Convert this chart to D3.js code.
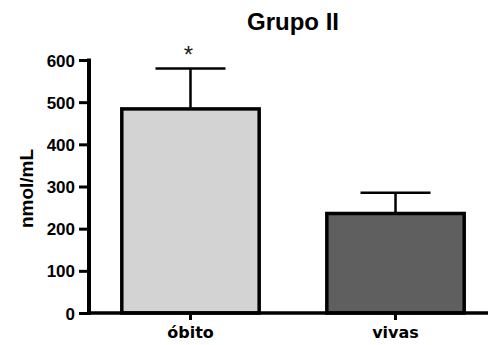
<!DOCTYPE html>
<html>
<head>
<meta charset="utf-8">
<script src="https://cdn.jsdelivr.net/npm/d3@7"></script>
<style>
  html, body { margin: 0; padding: 0; background: #fff; }
  svg { display: block; }
</style>
</head>
<body>
<svg id="chart" width="488" height="345"></svg>
<script>
// Group II: mean concentration with upper SEM bar
const categories = ["óbito", "vivas"];
const means = [484, 236];
const errors = [96, 49];
const fills = ["#d3d3d3", "#5f5f5f"];
const yTicks = [0, 100, 200, 300, 400, 500, 600];
const significance = ["*", ""];

const svg = d3.select("#chart");
const W = 488;
const axisX = 89, y0 = 313, yTop = 60;
const armFont = "'Liberation Sans', Arial, sans-serif";

const x = d3.scaleBand()
  .domain(categories)
  .range([axisX, 497])
  .paddingInner(0.33)
  .paddingOuter(0.16);

const y = d3.scaleLinear().domain([0, 600]).range([y0, yTop]);

// bars
svg.append("g").selectAll("rect")
  .data(categories)
  .join("rect")
  .attr("x", d => x(d))
  .attr("y", (d, i) => y(means[i]))
  .attr("width", x.bandwidth())
  .attr("height", (d, i) => y(0) - y(means[i]))
  .attr("fill", (d, i) => fills[i])
  .style("stroke", "#000")
  .style("stroke-width", "3.5px");

// error bars (upper only)
const eb = svg.append("g").style("stroke", "#000").style("stroke-width", "2.5px");
categories.forEach((c, i) => {
  const cx = x(c) + x.bandwidth() / 2;
  const capHalf = 35;
  const top = y(means[i] + errors[i]);
  eb.append("line").attr("x1", cx).attr("x2", cx)
    .attr("y1", y(means[i]) - 1.5).attr("y2", top);
  eb.append("line").attr("x1", cx - capHalf).attr("x2", cx + capHalf)
    .attr("y1", top).attr("y2", top);
  if (significance[i]) {
    svg.append("text")
      .attr("x", cx - 2)
      .attr("y", top - 5)
      .attr("text-anchor", "middle")
      .attr("font-family", armFont)
      .attr("font-size", 24)
      .attr("fill", "#222")
      .text(significance[i]);
  }
});

// y axis
const yAxis = svg.append("g")
  .attr("transform", `translate(${axisX},0)`)
  .call(d3.axisLeft(y).tickValues(yTicks).tickSize(10).tickSizeOuter(0).tickPadding(4));
yAxis.select(".domain").remove();
yAxis.append("line")
  .attr("x1", 0).attr("x2", 0)
  .attr("y1", yTop - 1.5).attr("y2", y0 + 2)
  .attr("stroke", "#000").attr("stroke-width", 4);
yAxis.selectAll(".tick line").attr("stroke", "#000").attr("stroke-width", 3);
yAxis.selectAll(".tick text")
  .attr("font-family", armFont)
  .attr("font-weight", "bold")
  .attr("font-size", 17)
  .attr("fill", "#000")
  .attr("dy", "0.36em");

// x axis
const xAxis = svg.append("g")
  .attr("transform", `translate(0,${y0})`)
  .call(d3.axisBottom(x).tickSize(7).tickSizeOuter(0).tickPadding(7));
xAxis.select(".domain").remove();
xAxis.append("line")
  .attr("x1", axisX - 2).attr("x2", W)
  .attr("y1", 0).attr("y2", 0)
  .attr("stroke", "#000").attr("stroke-width", 3.5);
xAxis.selectAll(".tick line").attr("stroke", "#000").attr("stroke-width", 3);
xAxis.selectAll(".tick text")
  .attr("font-family", "'DejaVu Sans', Verdana, sans-serif")
  .attr("font-weight", "bold")
  .attr("font-size", 16)
  .attr("fill", "#000");

// axis title
svg.append("text")
  .attr("transform", `translate(33,${(yTop + y0) / 2 + 2}) rotate(-90)`)
  .attr("text-anchor", "middle")
  .attr("font-family", armFont)
  .attr("font-weight", "bold")
  .attr("font-size", 19)
  .text("nmol/mL");

// title
svg.append("text")
  .attr("x", 293)
  .attr("y", 30)
  .attr("text-anchor", "middle")
  .attr("font-family", armFont)
  .attr("font-weight", "bold")
  .attr("font-size", 24)
  .text("Grupo II");
</script>
</body>
</html>
